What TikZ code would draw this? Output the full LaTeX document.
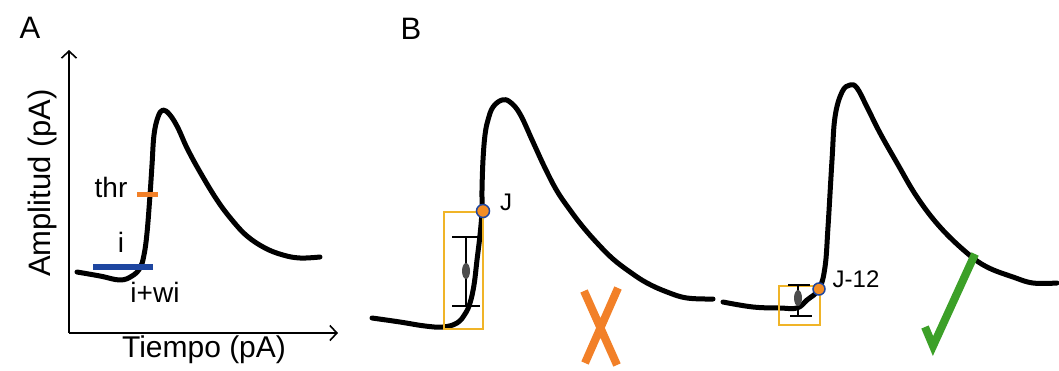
\documentclass[tikz,border=0pt]{standalone}
\usepackage{fontspec}
\setmainfont{Liberation Sans}
\usetikzlibrary{arrows.meta}
\definecolor{naranja}{RGB}{242,128,40}
\definecolor{caja}{RGB}{240,180,40}
\definecolor{azul}{RGB}{30,70,160}
\definecolor{verde}{RGB}{60,160,40}
\begin{document}
\begin{tikzpicture}[x=1pt, y=-1pt,
    traza/.style={line width=5pt, line join=round, line cap=round},
    barra/.style={line width=1.6pt},
    punto/.style={circle, fill=naranja!90!yellow, draw=azul, line width=1.5pt, inner sep=0pt, minimum size=13pt},
    etiq/.style={inner sep=0pt, font=\fontsize{28}{32}\selectfont}]
    \useasboundingbox (0,0) rectangle (1059,370);
    % Panel A: ejes
    \node[etiq, font=\fontsize{31}{36}\selectfont] (letA) at (30,28) {A};
    \coordinate (o) at (69,333);
    \coordinate (ytop) at (69,50);
    \coordinate (xend) at (338,333);
    \draw[line width=1.6pt, -{Straight Barb[length=7pt,width=15pt,line width=1.6pt]}] (o) -- (ytop);
    \draw[line width=1.6pt, -{Straight Barb[length=7pt,width=15pt,line width=1.6pt]}] (o) -- (xend);
    \node[etiq, font=\fontsize{31}{36}\selectfont, rotate=90] (ylab) at (42,183) {Amplitud (pA)};
    \node[etiq, font=\fontsize{30}{34}\selectfont] (xlab) at (204,350) {Tiempo (pA)};
    % Panel A: traza
    \draw[traza] plot[smooth, tension=0.65] coordinates {(77,272) (100,276) (120,280) (132,276) (140,268) (144,255) (147,233) (150,195) (152,165) (154,135) (158,117) (163,110) (170,115) (178,128) (187,148) (200,172) (217,200) (232,220) (247,236) (265,248) (283,255) (300,258) (320,257)};
    \draw[line width=5pt, naranja] (137,194) -- (158,194);
    \draw[line width=6pt, azul] (93,267) -- (153,267);
    \node[etiq] (thr) at (111,187) {thr};
    \node[etiq] (i) at (121,242) {i};
    \node[etiq] (iwi) at (155,292) {i+wi};
    % Panel B
    \node[etiq, font=\fontsize{31}{36}\selectfont] (letB) at (411,29) {B};
    \draw[traza] plot[smooth, tension=0.65] coordinates {(372,318) (400,322) (425,326) (443,327) (457,323) (465,314) (470,303) (474,285) (477,260) (480,235) (482,211) (482,190) (483,160) (485,135) (488,120) (493,107) (502,100) (510,102) (520,114) (533,142) (545,168) (557,191) (570,210) (583,227) (598,244) (613,259) (630,272) (647,283) (667,292) (687,298) (713,299)};
    \draw[traza] plot[smooth, tension=0.65] coordinates {(723,302) (753,307) (780,308) (797,308) (807,300) (819,289) (825,267) (828,227) (832,160) (835,117) (842,92) (850,85) (857,88) (867,107) (880,133) (897,163) (917,197) (940,227) (967,253) (987,267) (1013,277) (1033,283) (1057,283)};
    % ventanas
    \draw[caja, line width=1.5pt] (444,212) rectangle (483,329);
    \draw[caja, line width=1.5pt] (779,286) rectangle (820,325);
    % barras de error
    \draw[barra] (452,237) -- (480,237) (466,237) -- (466,306) (452,306) -- (480,306);
    \fill[black!70] (466,271) ellipse (4pt and 8pt);
    \draw[barra] (788,285) -- (810,285) (798,285) -- (798,316) (790,316) -- (812,316);
    \fill[black!70] (798,298) ellipse (4pt and 8pt);
    % puntos J
    \node[punto] (J) at (483,211) {};
    \node[punto, minimum size=12pt] (J12) at (819,289) {};
    \node[etiq, font=\fontsize{24}{28}\selectfont] (labJ) at (506,202) {J};
    \node[etiq, font=\fontsize{24}{28}\selectfont] (labJ12) at (856,279) {J-12};
    % marcas
    \draw[naranja, line width=8pt] (584,291) -- (617,365) (618,288) -- (585,363);
    \draw[verde, line width=8pt, line join=miter] (925,327) -- (933,346) -- (975,254);
\end{tikzpicture}
\end{document}
